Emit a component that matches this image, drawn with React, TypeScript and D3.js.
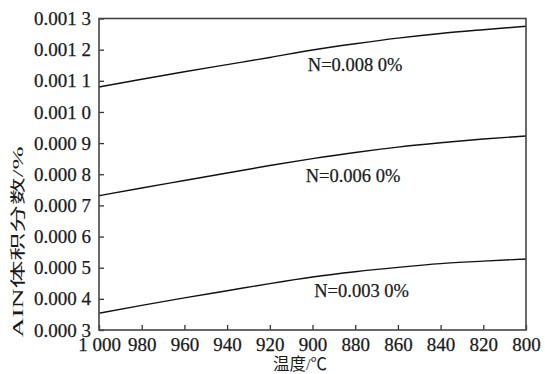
import * as d3 from 'd3';
import React, { useRef, useEffect } from 'react';

// temperature, degrees C (axis runs from 1000 down to 800)
const temps = [1000, 980, 960, 940, 920, 900, 880, 860, 840, 820, 800];

// AlN volume fraction, %
const n0080 = [0.00108, 0.001105, 0.001129, 0.001152, 0.001175, 0.001199, 0.001219, 0.001237, 0.001252, 0.001264, 0.001275];
const n0060 = [0.000731, 0.000756, 0.00078, 0.000804, 0.000828, 0.00085, 0.00087, 0.000887, 0.000901, 0.000913, 0.000923];
const n0030 = [0.000354, 0.000379, 0.000403, 0.000426, 0.000449, 0.00047, 0.000487, 0.000501, 0.000513, 0.000521, 0.000528];

const seriesNames = ['N=0.008 0%', 'N=0.006 0%', 'N=0.003 0%'];
const seriesValues = [n0080, n0060, n0030];

const xTicks = [1000, 980, 960, 940, 920, 900, 880, 860, 840, 820, 800];
const yTicks = [0.0003, 0.0004, 0.0005, 0.0006, 0.0007, 0.0008, 0.0009, 0.001, 0.0011, 0.0012, 0.0013];

// where each curve label sits, in data units (temp, value)
const labelTemps = [880, 881, 877];
const labelValues = [0.001131, 0.000775, 0.000406];

const W = 545;
const H = 374;
const serif = '"Liberation Serif", "DejaVu Serif", serif';

function Chart() {
    const ref = useRef();

    useEffect(() => {
        const svg = d3.select(ref.current);
        svg.selectAll('*').remove();

        const x = d3.scaleLinear().domain([1000, 800]).range([99, 526]);
        const y = d3.scaleLinear().domain([0.0003, 0.0013]).range([330, 18.5]);

        const fmtY = (d) => {
            const s = d.toFixed(4);
            return s.slice(0, -1) + ' ' + s.slice(-1);
        };
        const fmtX = (d) => (d >= 1000 ? '1 000' : String(d));

        // curves
        const ln = d3.line()
            .x((d) => x(d[0]))
            .y((d) => y(d[1]))
            .curve(d3.curveMonotoneX);

        seriesValues.forEach((vals, i) => {
            svg.append('path')
                .datum(temps.map((t, j) => [t, vals[j]]))
                .attr('d', ln)
                .attr('fill', 'none')
                .attr('stroke', '#111')
                .attr('stroke-width', 1.4);

            svg.append('text')
                .attr('x', x(labelTemps[i]))
                .attr('y', y(labelValues[i]))
                .attr('text-anchor', 'middle')
                .attr('font-family', serif)
                .attr('font-size', 18.5)
                .attr('fill', '#1a1a1a')
                .attr('stroke', '#1a1a1a')
                .attr('stroke-width', 0.25)
                .text(seriesNames[i]);
        });

        // axes, ticks point inward
        const xAxis = d3.axisBottom(x).tickValues(xTicks).tickFormat(fmtX)
            .tickSizeInner(-5).tickSizeOuter(0).tickPadding(8);
        const yAxis = d3.axisLeft(y).tickValues(yTicks).tickFormat(fmtY)
            .tickSizeInner(-5).tickSizeOuter(0).tickPadding(8);

        const gx = svg.append('g').attr('transform', 'translate(0,330)').call(xAxis);
        const gy = svg.append('g').attr('transform', 'translate(99,0)').call(yAxis);

        [gx, gy].forEach((g) => {
            g.select('.domain').remove();
            g.selectAll('line').attr('stroke', '#333').attr('stroke-width', 1.3);
            g.selectAll('text')
                .attr('font-family', serif)
                .attr('font-size', 19)
                .attr('fill', '#1a1a1a')
                .attr('stroke', '#1a1a1a')
                .attr('stroke-width', 0.25);
        });

        // frame
        svg.append('rect')
            .attr('x', 99)
            .attr('y', 18.5)
            .attr('width', 526 - 99)
            .attr('height', 330 - 18.5)
            .attr('fill', 'none')
            .attr('stroke', '#444')
            .attr('stroke-width', 1.6);

        // axis titles
        svg.append('text')
            .attr('x', 300)
            .attr('y', 370)
            .attr('text-anchor', 'middle')
            .attr('font-family', '"Liberation Serif", "Noto Sans CJK SC", serif')
            .attr('font-size', 16.5)
            .attr('fill', '#1a1a1a')
            .text('温度/℃');

        // y title is drawn stretched along its length, as in the source figure
        svg.append('text')
            .attr('transform', 'translate(23,242) rotate(-90) scale(1.85,1)')
            .attr('text-anchor', 'middle')
            .attr('font-family', '"Liberation Serif", "Noto Sans CJK SC", serif')
            .attr('font-size', 15)
            .attr('fill', '#1a1a1a')
            .text('AIN体积分数/%');
    }, []);

    return (
        <svg ref={ref} width={W} height={H}
            style={{ position: 'absolute', left: 0, top: 0, background: '#fff' }} />
    );
}

export default function App() {
    return <Chart />;
}
